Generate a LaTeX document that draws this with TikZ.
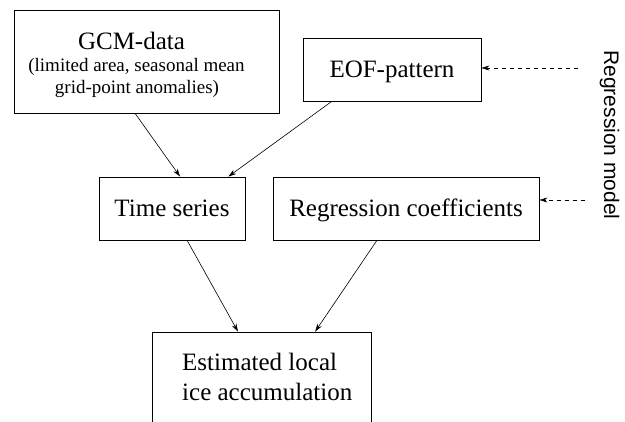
\documentclass[tikz,border=0pt]{standalone}
\usepackage{fontspec}
\setmainfont{Liberation Serif}
\newfontfamily\sansf{Liberation Sans}
\usetikzlibrary{arrows.meta,calc}
\tikzset{
  box/.style={draw, line width=0.8pt, inner sep=0pt, minimum height=63pt},
  conn/.style={line width=0.6pt, -{Stealth[length=8pt,width=5pt]}},
  dconn/.style={line width=0.6pt, dash pattern=on 4.5pt off 3.5pt, -{Stealth[length=8pt,width=5pt]}},
  big/.style={font=\fontsize{25}{29}\selectfont},
  small/.style={font=\fontsize{19}{21.5}\selectfont}
}
\begin{document}
\begin{tikzpicture}[x=1pt,y=-1pt]
\clip (0,0) rectangle (625,422);
% boxes
\node[box, minimum width=265pt, minimum height=103pt] (gcm) at (146.5,61.5) {};
\node[box, minimum width=178pt, big, text height=17pt, text depth=0pt] (eof) at (392,69.5) {EOF-pattern};
\node[box, minimum width=146pt, big, text height=17pt, text depth=0pt] (ts) at (172,208.5) {Time series};
\node[box, minimum width=266pt, big, text height=17pt, text depth=0pt] (reg) at (406,208.5) {Regression coefficients};
\node[box, minimum width=219pt, minimum height=130pt] (est) at (261.5,397) {};
% texts inside
\node[big, anchor=base, inner sep=0pt] (gcmt1) at (131.5,50) {GCM-data};
\node[small, anchor=base, inner sep=0pt] (gcmt2) at (136.5,72) {(limited area, seasonal mean};
\node[small, anchor=base, inner sep=0pt] (gcmt3) at (137,94) {grid-point anomalies)};
\node[big, anchor=base west, inner sep=0pt] (estt1) at (182,371) {Estimated local};
\node[big, anchor=base west, inner sep=0pt] (estt2) at (182,401) {ice accumulation};
% side label
\node[font=\sansf\fontsize{21}{24}\selectfont, rotate=-90, inner sep=0pt] (rm) at (609.5,135) {Regression model};
% connectors
\draw[conn] ($(gcm.south west)!0.457!(gcm.south east)$) -- ($(ts.north west)!0.555!(ts.north east)$);
\draw[conn] ($(eof.south west)!0.163!(eof.south east)$) -- ($(ts.north west)!0.884!(ts.north east)$);
\draw[conn] ($(ts.south west)!0.603!(ts.south east)$) -- ($(est.north west)!0.393!(est.north east)$);
\draw[conn] ($(reg.south west)!0.391!(reg.south east)$) -- ($(est.north west)!0.744!(est.north east)$);
\coordinate (d1) at (578,68);
\coordinate (d2) at (585,200);
\draw[dconn] (d1) -- (d1 -| eof.east);
\draw[dconn] (d2) -- (d2 -| reg.east);
\end{tikzpicture}
\end{document}
